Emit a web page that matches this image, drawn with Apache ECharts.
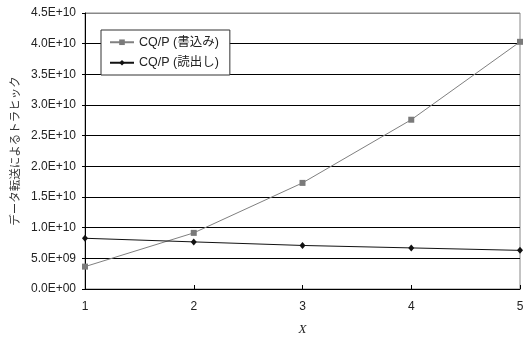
<!DOCTYPE html>
<html>
<head>
<meta charset="utf-8">
<script src="https://cdn.jsdelivr.net/npm/echarts@6/dist/echarts.min.js"></script>
<style>
  html, body { margin: 0; padding: 0; background: #fff; }
  #chart { width: 524px; height: 338px; }
</style>
</head>
<body>
<div id="chart"></div>
<script>
// X positions and traffic values for the two access patterns
const xValues = [1, 2, 3, 4, 5];
const writeTraffic = [3.65e9, 9.15e9, 17.3e9, 27.6e9, 40.3e9];
const readTraffic = [8.27e9, 7.68e9, 7.1e9, 6.7e9, 6.3e9];
const seriesNames = ['CQ/P (書込み)', 'CQ/P (読出し)'];
const yAxisTitle = 'データ転送によるトラヒック';
const xAxisTitle = 'X';

const FONT = '"Liberation Sans", Arial, "Noto Sans CJK JP", sans-serif';

// Excel-style scientific label, e.g. 4.5E+10, 5.0E+09
function sci(v) {
  if (v === 0) return '0.0E+00';
  const exp = Math.floor(Math.log10(Math.abs(v)));
  const mant = v / Math.pow(10, exp);
  const e = String(Math.abs(exp)).padStart(2, '0');
  return mant.toFixed(1) + 'E' + (exp < 0 ? '-' : '+') + e;
}

const pairs = arr => xValues.map((x, i) => [x, arr[i]]);

const chart = echarts.init(document.getElementById('chart'));
chart.setOption({
  animation: false,
  backgroundColor: '#fff',
  textStyle: { fontFamily: FONT },
  grid: {
    left: 85, right: 4, top: 13, bottom: 49,
    containLabel: false,
    outerBoundsMode: 'none',
    show: true, borderColor: '#888', borderWidth: 1
  },
  legend: {
    orient: 'vertical',
    left: 101, top: 30,
    backgroundColor: '#fff',
    borderColor: '#333', borderWidth: 1, borderRadius: 0,
    padding: [6, 11, 6, 8],
    itemGap: 8,
    itemWidth: 24, itemHeight: 7,
    textStyle: { fontFamily: FONT, fontSize: 12.5, color: '#222' },
    data: seriesNames
  },
  xAxis: {
    type: 'value',
    min: 1, max: 5, interval: 1,
    name: xAxisTitle,
    nameLocation: 'middle',
    nameGap: 34,
    nameTextStyle: { fontFamily: '"Liberation Serif", "Times New Roman", serif', fontStyle: 'italic', fontSize: 13, color: '#222' },
    axisLine: { lineStyle: { color: '#000', width: 1 } },
    axisTick: { inside: true, length: 4, lineStyle: { color: '#000' } },
    axisLabel: { fontSize: 12, color: '#222', margin: 12, fontFamily: FONT },
    splitLine: { show: false }
  },
  yAxis: {
    type: 'value',
    min: 0, max: 4.5e10, interval: 5e9,
    name: yAxisTitle,
    nameLocation: 'middle',
    nameRotate: 90,
    nameGap: 64,
    nameTextStyle: { fontFamily: '"Noto Sans CJK JP", sans-serif', fontSize: 11.5, color: '#333' },
    axisLine: { show: true, lineStyle: { color: '#000', width: 1 } },
    axisTick: { show: true, length: 3, lineStyle: { color: '#000' } },
    axisLabel: {
      fontSize: 12, color: '#222', margin: 9, fontFamily: FONT,
      formatter: sci
    },
    splitLine: {
      show: true,
      lineStyle: {
        width: 1,
        color: ['#000', '#000', '#000', '#000', '#000', '#000', '#000', '#000', '#000', '#888']
      }
    }
  },
  series: [
    {
      name: seriesNames[0],
      type: 'line',
      data: pairs(writeTraffic),
      symbol: 'rect',
      symbolSize: 6,
      lineStyle: { color: '#808080', width: 1 },
      itemStyle: { color: '#7a7a7a' },
      z: 3
    },
    {
      name: seriesNames[1],
      type: 'line',
      data: pairs(readTraffic),
      symbol: 'diamond',
      symbolSize: [6, 7],
      lineStyle: { color: '#111', width: 1 },
      itemStyle: { color: '#111' },
      z: 4
    }
  ]
});
</script>
</body>
</html>
